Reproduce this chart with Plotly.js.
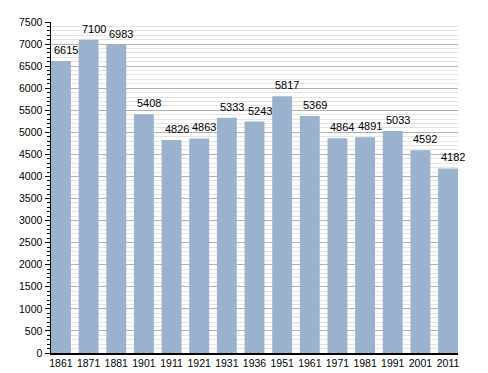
<!DOCTYPE html>
<html><head><meta charset="utf-8">
<script src="https://cdn.plot.ly/plotly-3.0.1.min.js"></script>
<style>html,body{margin:0;padding:0;background:#fff}</style>
</head><body>
<div id="chart" style="width:488px;height:373px"></div>
<script>
const years = ["1861","1871","1881","1901","1911","1921","1931","1936","1951","1961","1971","1981","1991","2001","2011"];
const population = [6615,7100,6983,5408,4826,4863,5333,5243,5817,5369,4864,4891,5033,4592,4182];
const yTicks = [0,500,1000,1500,2000,2500,3000,3500,4000,4500,5000,5500,6000,6500,7000,7500];

const barWidth = 0.72;
const mkFont = (s) => ({family: "Liberation Sans, Arial, sans-serif", size: s, color: "#000"});

const trace = {
  type: "bar",
  x: years,
  y: population,
  width: barWidth,
  marker: {color: "#9ab2cd", line: {width: 0}},
  hoverinfo: "x+y"
};

const annotations = years.map((yr, i) => ({
  x: i, y: population[i], text: String(population[i]),
  xref: "x", yref: "y",
  showarrow: false, xanchor: "center", yanchor: "bottom",
  xshift: 5, yshift: 3, font: mkFont(11)
}));

const layout = {
  width: 488, height: 373,
  margin: {l: 51, r: 30, t: 21.5, b: 20, pad: 0},
  paper_bgcolor: "#fff", plot_bgcolor: "#fff",
  showlegend: false,
  font: mkFont(10.5),
  xaxis: {
    type: "category",
    range: [-barWidth/2, years.length - 1 + barWidth/2],
    showline: true, linecolor: "#000", linewidth: 1.5,
    ticks: "", showgrid: false, zeroline: false,
    tickfont: mkFont(10.5)
  },
  yaxis: {
    range: [0, 7500],
    tickvals: yTicks, ticktext: yTicks.map(String),
    showline: true, linecolor: "#000", linewidth: 1.5,
    ticks: "outside", ticklen: 5, tickcolor: "#000", tickwidth: 1,
    showgrid: true, gridcolor: "#b0b0b0", gridwidth: 1,
    zeroline: false,
    tickfont: mkFont(10.5),
    minor: {dtick: 100, ticks: "outside", ticklen: 3, tickcolor: "#000", showgrid: true, gridcolor: "#e4e4e4", gridwidth: 1}
  },
  annotations: annotations
};

Plotly.newPlot("chart", [trace], layout, {displayModeBar: false, staticPlot: true});
</script>
</body></html>
